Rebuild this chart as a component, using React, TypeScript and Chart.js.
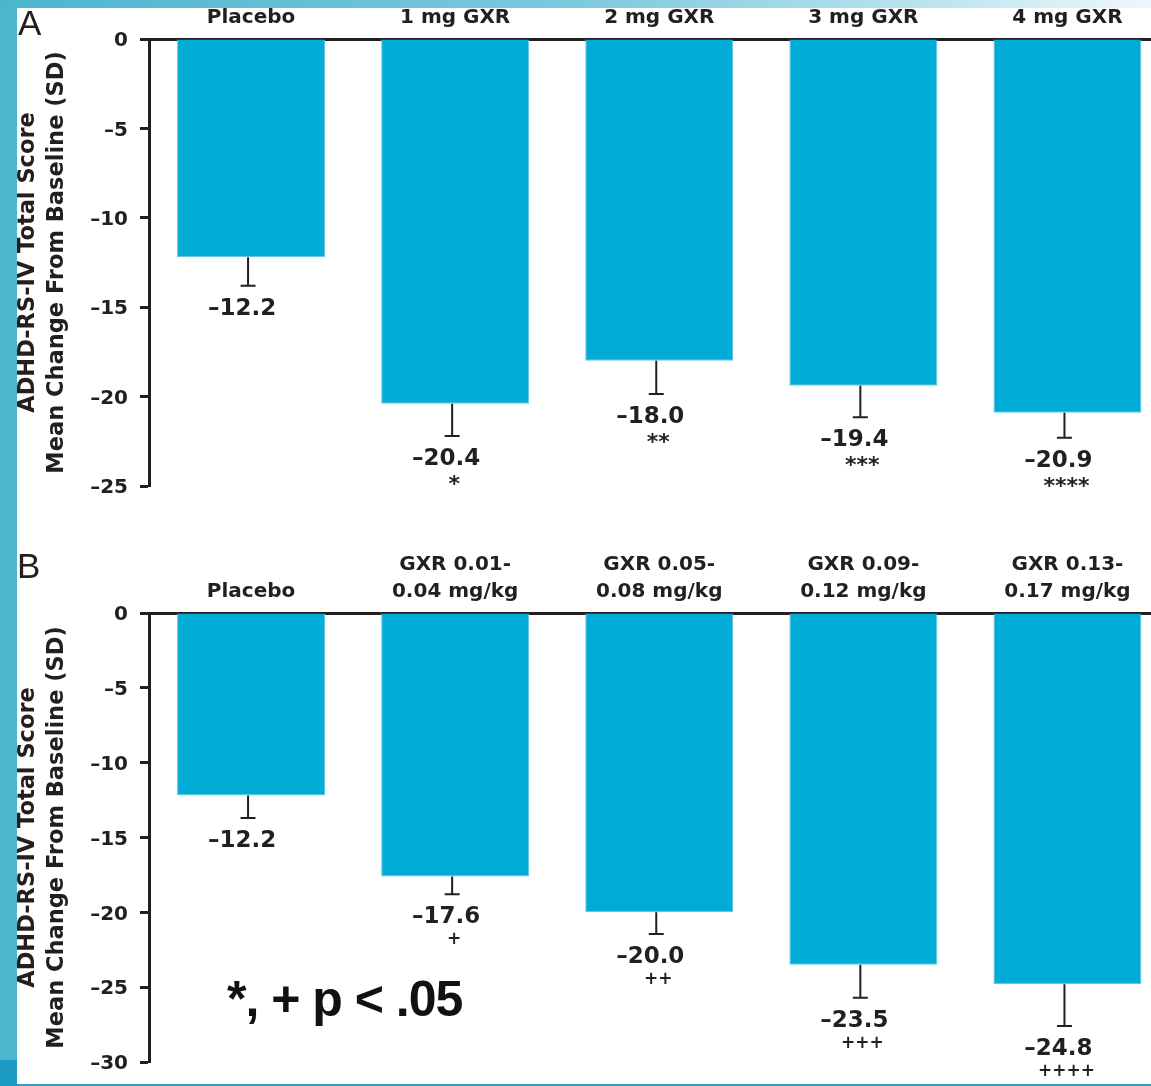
import React, { useEffect, useRef } from 'react';
import { Chart, registerables } from 'chart.js';

Chart.register(...registerables);

// ---------- Data ----------
const categoriesA = ['Placebo', '1 mg GXR', '2 mg GXR', '3 mg GXR', '4 mg GXR'];
const meansA = [-12.2, -20.4, -18.0, -19.4, -20.9];
const sdA = [1.6, 1.8, 1.85, 1.75, 1.4];
const marksA = ['', '*', '**', '***', '****'];
const yTicksA = [0, -5, -10, -15, -20, -25];

const categoriesB = [
  'Placebo',
  ['GXR 0.01-', '0.04 mg/kg'],
  ['GXR 0.05-', '0.08 mg/kg'],
  ['GXR 0.09-', '0.12 mg/kg'],
  ['GXR 0.13-', '0.17 mg/kg'],
];
const meansB = [-12.2, -17.6, -20.0, -23.5, -24.8];
const sdB = [1.5, 1.2, 1.45, 2.2, 2.8];
const marksB = ['', '+', '++', '+++', '++++'];
const yTicksB = [0, -5, -10, -15, -20, -25, -30];

const yTitle = ['ADHD-RS-IV Total Score', 'Mean Change From Baseline (SD)'];
const footnote = '*, + p < .05';

// ---------- Styles ----------
const INK = '#231f20';
const BAR = '#00acd5';
const BAR_EDGE = '#5cc8e6';
const FONT = 'DejaVu Sans';

const fmt = (v: number) => (v === 0 ? '0' : '\u2013' + Math.abs(v).toFixed(1));
const fmtTick = (v: number) => (v === 0 ? '0' : '\u2013' + Math.abs(v));

function makeAnnotPlugin(means: number[], sds: number[], marks: string[], markFont: string, markOffset: number) {
  return {
    id: 'annot',
    afterDatasetsDraw(chart: any) {
      const { ctx } = chart;
      const y = chart.scales.y;
      const meta = chart.getDatasetMeta(0);
      meta.data.forEach((bar: any, i: number) => {
        const x = bar.x;
        const yBar = bar.y;
        const yCap = y.getPixelForValue(means[i] - sds[i]);
        ctx.save();
        ctx.strokeStyle = INK;
        ctx.lineWidth = 2;
        ctx.beginPath();
        ctx.moveTo(x - 3, yBar);
        ctx.lineTo(x - 3, yCap);
        ctx.moveTo(x - 3 - 7.5, yCap);
        ctx.lineTo(x - 3 + 7.5, yCap);
        ctx.stroke();
        ctx.fillStyle = INK;
        ctx.textAlign = 'center';
        ctx.textBaseline = 'alphabetic';
        ctx.font = `bold 23px "${FONT}"`;
        const vb = yCap + 29;
        ctx.fillText(fmt(means[i]), x - 9, vb);
        if (marks[i]) {
          ctx.font = markFont;
          ctx.fillText(marks[i], x - 1, vb + markOffset);
        }
        ctx.restore();
      });
    },
  };
}

function buildConfig(
  labels: any[],
  means: number[],
  yTicks: number[],
  xAxisHeight: number,
  bottomPad: number,
  plugin: any
) {
  return {
    type: 'bar' as const,
    data: {
      labels,
      datasets: [
        {
          data: means,
          backgroundColor: BAR,
          borderColor: BAR_EDGE,
          borderWidth: 1,
          barPercentage: 0.725,
          categoryPercentage: 1,
        },
      ],
    },
    options: {
      responsive: false,
      animation: false,
      layout: { padding: { left: 0, right: 10.5, top: 0, bottom: bottomPad } },
      plugins: {
        legend: { display: false },
        tooltip: { enabled: false },
      },
      scales: {
        x: {
          position: 'top',
          grid: { display: false, drawTicks: false, tickLength: 0 },
          border: { display: true, width: 3, color: INK },
          ticks: {
            color: INK,
            font: { family: FONT, weight: 'bold', size: 20, lineHeight: 1.335 },
            padding: 8,
            maxRotation: 0,
            autoSkip: false,
          },
          afterFit: (s: any) => {
            s.height = xAxisHeight;
          },
        },
        y: {
          min: Math.min(...yTicks),
          max: Math.max(...yTicks),
          afterBuildTicks: (s: any) => {
            s.ticks = yTicks.map((v) => ({ value: v }));
          },
          grid: {
            drawOnChartArea: false,
            drawTicks: true,
            tickLength: 9,
            tickWidth: 3,
            tickColor: INK,
          },
          border: { display: true, width: 3, color: INK },
          ticks: {
            color: INK,
            font: { family: FONT, weight: 'bold', size: 20 },
            padding: 12,
            labelOffset: 2,
            callback: (v: any) => fmtTick(Number(v)),
          },
          title: {
            display: true,
            text: yTitle,
            color: INK,
            font: { family: FONT, weight: 'bold', size: 22.5, lineHeight: 29 / 22.5 },
            padding: { top: 14, bottom: 0 },
          },
          afterFit: (s: any) => {
            s.width = 149;
          },
        },
      },
    },
    plugins: [plugin],
  };
}

export default function App() {
  const refA = useRef<HTMLCanvasElement>(null);
  const refB = useRef<HTMLCanvasElement>(null);

  useEffect(() => {
    const chartA = new Chart(
      refA.current as HTMLCanvasElement,
      buildConfig(
        categoriesA,
        meansA,
        yTicksA,
        39,
        13,
        makeAnnotPlugin(meansA, sdA, marksA, `bold 22px "${FONT}"`, 26)
      ) as any
    );
    const chartB = new Chart(
      refB.current as HTMLCanvasElement,
      buildConfig(
        categoriesB,
        meansB,
        yTicksB,
        93,
        13.3,
        makeAnnotPlugin(meansB, sdB, marksB, `bold 17px "${FONT}"`, 21)
      ) as any
    );
    return () => {
      chartA.destroy();
      chartB.destroy();
    };
  }, []);

  const letter: React.CSSProperties = {
    position: 'absolute',
    fontFamily: '"Liberation Sans", Arial, sans-serif',
    fontSize: 35,
    lineHeight: 1,
    color: INK,
    zIndex: 2,
  };

  return (
    <div
      style={{
        position: 'fixed',
        left: 0,
        top: 0,
        width: 1151,
        height: 1086,
        overflow: 'hidden',
        background: '#ffffff',
      }}
    >
      <canvas ref={refA} width={1180} height={510} style={{ position: 'absolute', left: 0, top: 0 }} />
      <canvas ref={refB} width={1180} height={566} style={{ position: 'absolute', left: 0, top: 520 }} />
      {/* decorative frame */}
      <div style={{ position: 'absolute', left: 0, top: 0, width: 17, height: 1086, background: '#4cb6cf', zIndex: 3 }} />
      <div style={{ position: 'absolute', left: 0, top: 1060, width: 17, height: 26, background: '#1b9ac2', zIndex: 3 }} />
      <div
        style={{
          position: 'absolute',
          left: 0,
          top: 0,
          width: 1151,
          height: 8,
          background: 'linear-gradient(to right, #4cb5ce 0%, #7cc9de 50%, #b9e3ee 80%, #eef8fb 100%)',
          zIndex: 3,
        }}
      />
      <div style={{ position: 'absolute', left: 17, top: 1084, width: 1134, height: 2, background: '#2f9fc0', zIndex: 3 }} />
      <div style={{ ...letter, left: 18, top: 5 }}>A</div>
      <div style={{ ...letter, left: 17, top: 548 }}>B</div>
      <div
        style={{
          position: 'absolute',
          left: 227,
          top: 974,
          fontFamily: '"Liberation Sans", Arial, sans-serif',
          fontWeight: 'bold',
          fontSize: 50,
          letterSpacing: -1,
          lineHeight: 1,
          color: '#111',
          whiteSpace: 'nowrap',
          zIndex: 2,
        }}
      >
        {footnote}
      </div>
    </div>
  );
}
